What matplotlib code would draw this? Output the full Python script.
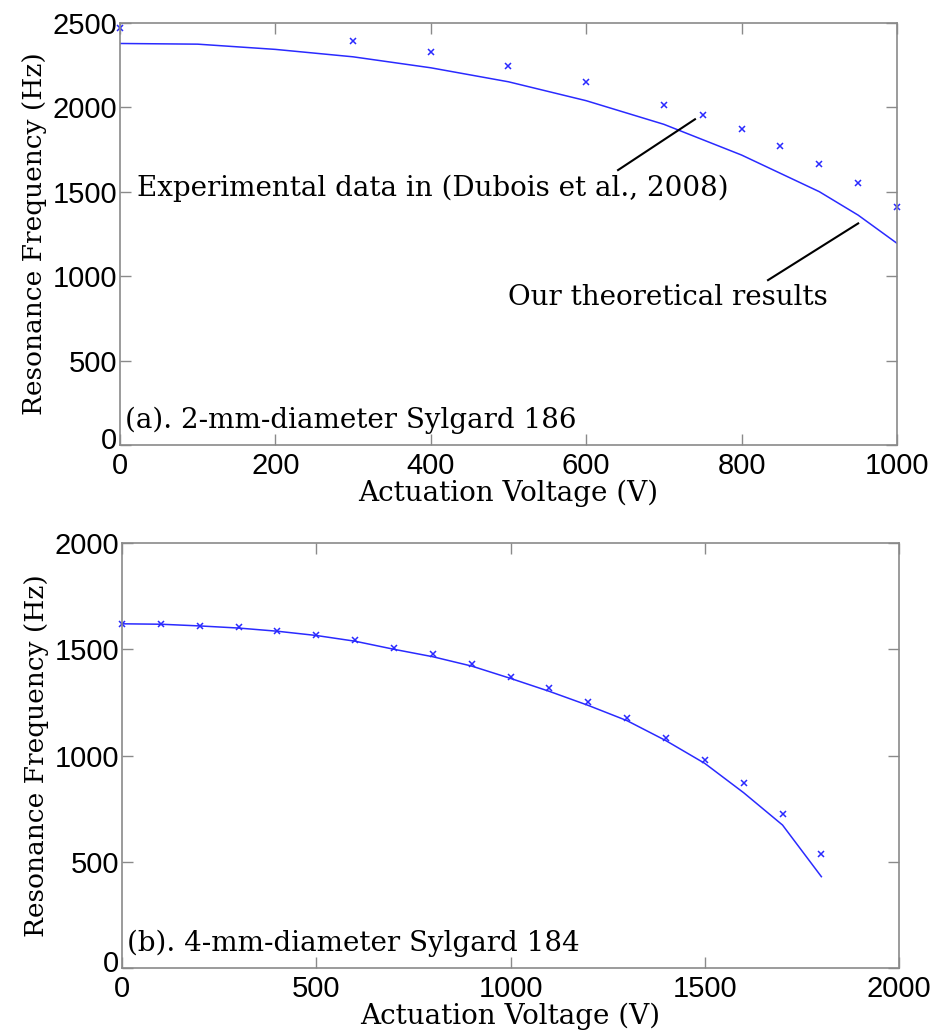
import matplotlib
matplotlib.use("Agg")
import matplotlib.pyplot as plt
import matplotlib.transforms as mtransforms

# (a) 2-mm-diameter Sylgard 186
a_exp_v = [0, 300, 400, 500, 600, 700, 750, 800, 850, 900, 950, 1000]
a_exp_f = [2468, 2395, 2326, 2247, 2150, 2014, 1955, 1870, 1773, 1667, 1550, 1408]
a_th_v = [0, 100, 200, 300, 400, 500, 600, 700, 800, 900, 950, 1000]
a_th_f = [2379, 2375, 2344, 2300, 2235, 2152, 2040, 1900, 1718, 1501, 1362, 1195]

# (b) 4-mm-diameter Sylgard 184
b_exp_v = list(range(0, 1900, 100))
b_exp_f = [1619, 1619, 1609, 1603, 1587, 1569, 1542, 1504, 1476, 1429,
           1368, 1319, 1252, 1178, 1082, 977, 872, 723, 536]
b_th_v = list(range(0, 1900, 100))
b_th_f = [1620, 1618, 1610, 1600, 1585, 1565, 1538, 1500, 1465, 1421,
          1363, 1302, 1236, 1164, 1070, 963, 825, 673, 430]

SERIF = "DejaVu Serif"
SANS = "Liberation Sans"
BLUE = "#2a2aff"


def style_axes(fig, ax, xlim, ylim, xticks, yticks):
    ax.set_xlim(*xlim)
    ax.set_ylim(*ylim)
    ax.set_xticks(xticks)
    ax.set_yticks(yticks)
    for s in ax.spines.values():
        s.set_color("#8a8a8a")
        s.set_linewidth(1.2)
    ax.tick_params(direction="in", top=True, right=True, length=8,
                   width=1, color="#8a8a8a", labelsize=21)
    ax.tick_params(axis="x", pad=5)
    ax.tick_params(axis="y", pad=2)
    for lab in ax.get_xticklabels() + ax.get_yticklabels():
        lab.set_family(SANS)
    # MATLAB-like corner: lift the y "0" a little
    zero = ax.yaxis.get_major_ticks()[0].label1
    zero.set_transform(zero.get_transform() +
                       mtransforms.ScaledTranslation(0, 5 / 72, fig.dpi_scale_trans))
    ax.set_xlabel("Actuation Voltage (V)", family=SERIF, fontsize=20, labelpad=0)
    ax.set_ylabel("Resonance Frequency (Hz)", family=SERIF, fontsize=19, labelpad=4)


fig = plt.figure(figsize=(9.38, 10.34), dpi=100)
fig.patch.set_facecolor("white")

ax1 = fig.add_axes([0.1279, 0.5696, 0.8284, 0.4081])
ax2 = fig.add_axes([0.1301, 0.0638, 0.8284, 0.4110])

# ---- top ----
ax1.plot(a_th_v, a_th_f, color=BLUE, linewidth=1.1)
ax1.plot(a_exp_v, a_exp_f, linestyle="none", marker="x", markersize=5,
         markeredgewidth=1.1, color=BLUE, clip_on=False)
style_axes(fig, ax1, (0, 1000), (0, 2500), range(0, 1001, 200), range(0, 2501, 500))
ax1.text(0.007, 0.025, "(a). 2-mm-diameter Sylgard 186", transform=ax1.transAxes,
         family=SERIF, fontsize=20, ha="left", va="bottom")
ax1.text(22, 1522, "Experimental data in (Dubois et al., 2008)",
         family=SERIF, fontsize=20, ha="left", va="center")
ax1.plot([740, 641], [1930, 1629], color="black", linewidth=1.5)
ax1.text(499, 877, "Our theoretical results",
         family=SERIF, fontsize=20, ha="left", va="center")
ax1.plot([950, 834], [1313, 977], color="black", linewidth=1.5)

# ---- bottom ----
ax2.plot(b_th_v, b_th_f, color=BLUE, linewidth=1.1)
ax2.plot(b_exp_v, b_exp_f, linestyle="none", marker="x", markersize=5,
         markeredgewidth=1.1, color=BLUE, clip_on=False)
style_axes(fig, ax2, (0, 2000), (0, 2000), range(0, 2001, 500), range(0, 2001, 500))
ax2.text(0.007, 0.025, "(b). 4-mm-diameter Sylgard 184", transform=ax2.transAxes,
         family=SERIF, fontsize=20, ha="left", va="bottom")

plt.savefig("out.png", dpi=100)
plt.close()
